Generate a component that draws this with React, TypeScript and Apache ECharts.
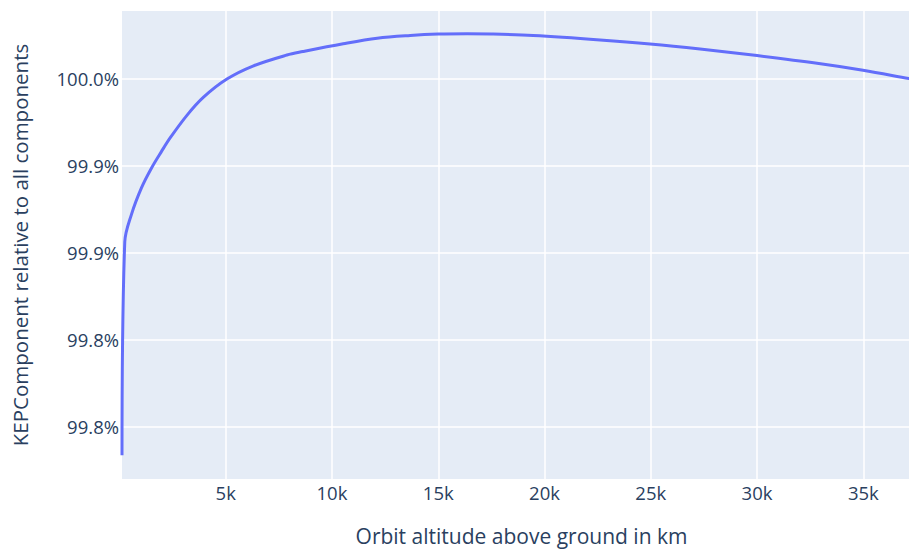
import React, { useEffect, useRef } from "react";
import * as echarts from "echarts";

// Orbit altitude above ground (km) and the KEP component's share of all components
const altitudeKm = [
  120, 250, 570, 1040, 1510, 1980, 2400, 3175, 3956, 5056, 6308, 7879, 8628,
  10527, 12126, 13678, 15000, 16359, 17500, 19464, 22615, 24967, 27319, 30000,
  32822, 34986, 37150, 37714,
];
const kepShare = [
  0.997837, 0.999062, 0.999222, 0.999374, 0.999487, 0.999582, 0.999662,
  0.999789, 0.999893, 0.999997, 1.000073, 1.000135, 1.000155, 1.0002,
  1.000232, 1.000248, 1.000256, 1.000258, 1.000256, 1.000247, 1.000222,
  1.000199, 1.00017, 1.000132, 1.000088, 1.000048, 1.0, 0.999988,
];

const xTickValues = [5000, 10000, 15000, 20000, 25000, 30000, 35000];
const xTickLabels = ["5k", "10k", "15k", "20k", "25k", "30k", "35k"];
const yTickValues = [0.998, 0.9985, 0.999, 0.9995, 1.0];
const yTickLabels = ["99.8%", "99.8%", "99.9%", "99.9%", "100.0%"];

const yMin = 0.997701;
const yMax = 1.000388;

const FONT = '"Open Sans", verdana, arial, sans-serif';
const TEXT = "#2a3f5f";

function lookup(values: number[], labels: string[], v: number): string {
  for (let i = 0; i < values.length; i++) {
    if (Math.abs(values[i] - v) < 1e-9 * Math.max(1, Math.abs(v))) return labels[i];
  }
  return "";
}

export default function App() {
  const ref = useRef<HTMLDivElement>(null);

  useEffect(() => {
    if (!ref.current) return;
    const chart = echarts.init(ref.current, null, { renderer: "svg" });
    chart.setOption({
      animation: false,
      backgroundColor: "#ffffff",
      textStyle: { fontFamily: FONT },
      grid: {
        left: 122,
        right: 0,
        top: 11,
        bottom: 66,
        show: true,
        backgroundColor: "#E5ECF6",
        borderWidth: 0,
      },
      xAxis: {
        type: "value",
        min: altitudeKm[0],
        max: altitudeKm[altitudeKm.length - 1],
        name: "Orbit altitude above ground in km",
        nameLocation: "middle",
        nameGap: 46,
        nameTextStyle: { fontFamily: FONT, fontSize: 21, color: TEXT },
        axisLine: { show: false },
        axisTick: { show: false, customValues: xTickValues },
        axisLabel: {
          customValues: xTickValues,
          formatter: (v: number) => lookup(xTickValues, xTickLabels, v),
          fontFamily: FONT,
          fontSize: 18.5,
          color: TEXT,
          margin: 4,
        },
        splitLine: { show: true, lineStyle: { color: "#ffffff", width: 1.5 } },
      },
      yAxis: {
        type: "value",
        min: yMin,
        max: yMax,
        name: "KEPComponent relative to all components",
        nameLocation: "middle",
        nameGap: 92,
        nameRotate: 90,
        nameTextStyle: { fontFamily: FONT, fontSize: 20.5, color: TEXT },
        axisLine: { show: false },
        axisTick: { show: false, customValues: yTickValues },
        axisLabel: {
          customValues: yTickValues,
          formatter: (v: number) => lookup(yTickValues, yTickLabels, v),
          fontFamily: FONT,
          fontSize: 18.5,
          color: TEXT,
          margin: 3,
        },
        splitLine: { show: true, lineStyle: { color: "#ffffff", width: 1.5 } },
      },
      series: [
        {
          type: "line",
          data: altitudeKm.map((x, i) => [x, kepShare[i]]),
          showSymbol: false,
          smooth: 0.35,
          lineStyle: { color: "#636EFA", width: 3 },
          clip: true,
        },
      ],
    });
    return () => chart.dispose();
  }, []);

  // The plot area runs a little past the window's right edge; the wrapper crops it.
  return (
    <div
      style={{
        position: "absolute",
        left: 0,
        top: 0,
        width: 909,
        height: 551,
        overflow: "hidden",
      }}
    >
      <div ref={ref} style={{ width: 921, height: 551 }} />
    </div>
  );
}
